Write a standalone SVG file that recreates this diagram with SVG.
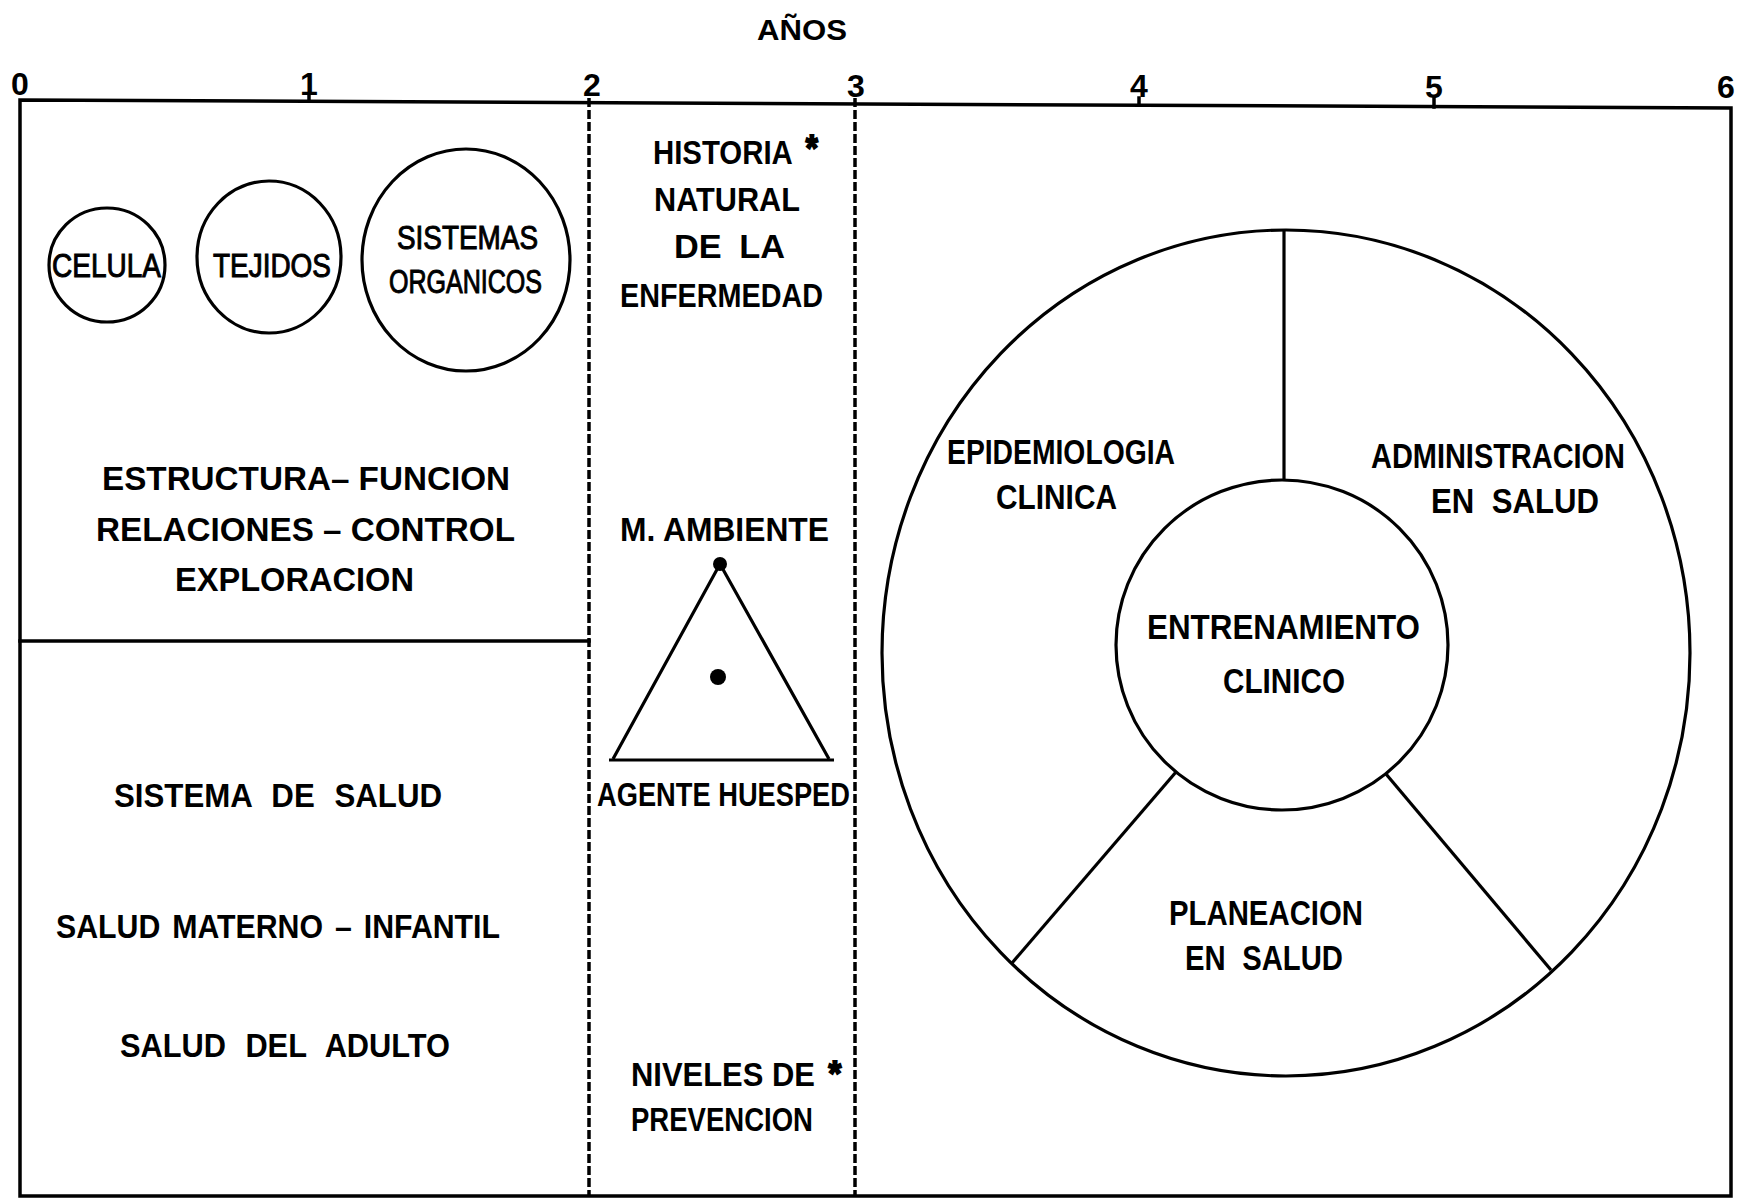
<svg xmlns="http://www.w3.org/2000/svg" width="1743" height="1200" viewBox="0 0 1743 1200">
<style>
  .frame { fill: none; stroke: #000; stroke-width: 3.5; stroke-linecap: square; }
  .dash { fill: none; stroke: #000; stroke-width: 3.5; stroke-dasharray: 9 3; }
  .shape { fill: none; stroke: #000; stroke-width: 3.2; }
  .t { font-family: 'Liberation Sans', Arial, sans-serif; fill: #000; }
  .b { font-weight: bold; font-size: 34px; }
  .r { font-weight: normal; font-size: 33px; stroke: #000; stroke-width: 1; }
  .m { font-weight: bold; font-size: 35px; }
  .ax { font-weight: bold; font-size: 32px; }
  .star { font-weight: bold; font-size: 36px; stroke: #000; stroke-width: 2; }
  .dot { fill: #000; }
</style>
<rect x="0" y="0" width="1743" height="1200" fill="#fff"/>

<g id="axis">
  <text class="t" x="757" y="40" font-size="29" font-weight="bold" textLength="90" lengthAdjust="spacingAndGlyphs">AÑOS</text>
  <text class="t ax" x="20" y="95" text-anchor="middle">0</text>
  <text class="t ax" x="309" y="95" text-anchor="middle">1</text>
  <text class="t ax" x="592" y="96" text-anchor="middle">2</text>
  <text class="t ax" x="856" y="97" text-anchor="middle">3</text>
  <text class="t ax" x="1139" y="97" text-anchor="middle">4</text>
  <text class="t ax" x="1434" y="98" text-anchor="middle">5</text>
  <text class="t ax" x="1726" y="98" text-anchor="middle">6</text>
</g>

<g id="connectors">
  <path class="frame" d="M20,100 L1731,108 L1731,1196 L20,1196 Z"/>
  <line class="frame" x1="309" y1="95" x2="309" y2="101"/>
  <line class="frame" x1="1139" y1="98" x2="1139" y2="105"/>
  <line class="frame" x1="1434" y1="99" x2="1434" y2="107"/>
  <line class="dash" x1="589" y1="98" x2="589" y2="1196"/>
  <line class="dash" x1="855" y1="98" x2="855" y2="1196"/>
  <line class="frame" stroke-width="4" x1="20" y1="641" x2="589" y2="641"/>
</g>

<g id="celula">
  <ellipse class="shape" cx="107" cy="265" rx="58" ry="57"/>
  <text class="t r" x="52" y="277" textLength="109" lengthAdjust="spacingAndGlyphs">CELULA</text>
</g>
<g id="tejidos">
  <ellipse class="shape" cx="269" cy="257" rx="72" ry="76"/>
  <text class="t r" x="213" y="277" textLength="118" lengthAdjust="spacingAndGlyphs">TEJIDOS</text>
</g>
<g id="sistemas-organicos">
  <ellipse class="shape" cx="466" cy="260" rx="104" ry="111"/>
  <text class="t r" x="397" y="249" textLength="141" lengthAdjust="spacingAndGlyphs">SISTEMAS</text>
  <text class="t r" x="389" y="293" textLength="153" lengthAdjust="spacingAndGlyphs">ORGANICOS</text>
</g>

<g id="estructura">
  <text class="t b" x="102" y="490" textLength="408" lengthAdjust="spacingAndGlyphs">ESTRUCTURA– FUNCION</text>
  <text class="t b" x="96" y="541" textLength="419" lengthAdjust="spacingAndGlyphs">RELACIONES – CONTROL</text>
  <text class="t b" x="175" y="591" textLength="239" lengthAdjust="spacingAndGlyphs">EXPLORACION</text>
</g>

<g id="salud">
  <text class="t b" x="114" y="807" word-spacing="12" textLength="328" lengthAdjust="spacingAndGlyphs">SISTEMA DE SALUD</text>
  <text class="t b" x="56" y="938" word-spacing="4" textLength="444" lengthAdjust="spacingAndGlyphs">SALUD  MATERNO – INFANTIL</text>
  <text class="t b" x="120" y="1057" word-spacing="12" textLength="330" lengthAdjust="spacingAndGlyphs">SALUD DEL ADULTO</text>
</g>

<g id="historia-natural">
  <text class="t b" transform="translate(653,164) scale(0.864,1)">HISTORIA<tspan class="star" dx="15" dy="-3">*</tspan></text>
  <text class="t b" x="654" y="211" textLength="146" lengthAdjust="spacingAndGlyphs">NATURAL</text>
  <text class="t b" x="674" y="258" word-spacing="8" textLength="111" lengthAdjust="spacingAndGlyphs">DE LA</text>
  <text class="t b" x="620" y="307" textLength="203" lengthAdjust="spacingAndGlyphs">ENFERMEDAD</text>
</g>

<g id="triada">
  <text class="t b" x="620" y="541" textLength="209" lengthAdjust="spacingAndGlyphs">M. AMBIENTE</text>
  <polyline class="shape" points="613,759 720,564 829,759"/>
  <line class="shape" stroke-width="5" x1="609" y1="760" x2="834" y2="760"/>
  <circle class="dot" cx="720" cy="564" r="7"/>
  <circle class="dot" cx="718" cy="677" r="8"/>
  <text class="t b" x="597" y="806" textLength="253" lengthAdjust="spacingAndGlyphs">AGENTE HUESPED</text>
</g>

<g id="niveles">
  <text class="t b" transform="translate(631,1086) scale(0.91,1)">NIVELES DE<tspan class="star" dx="15" dy="-1">*</tspan></text>
  <text class="t b" x="631" y="1131" textLength="182" lengthAdjust="spacingAndGlyphs">PREVENCION</text>
</g>

<g id="ciclo-clinico">
  <ellipse class="shape" cx="1286" cy="653" rx="404" ry="423"/>
  <ellipse class="shape" cx="1282" cy="645" rx="166" ry="165"/>
  <line class="shape" x1="1284" y1="230" x2="1284" y2="480"/>
  <line class="shape" x1="1176" y1="772" x2="1012" y2="963"/>
  <line class="shape" x1="1386" y1="774" x2="1551" y2="970"/>
</g>
<g id="epidemiologia">
  <text class="t m" x="947" y="464" textLength="228" lengthAdjust="spacingAndGlyphs">EPIDEMIOLOGIA</text>
  <text class="t m" x="996" y="509" textLength="121" lengthAdjust="spacingAndGlyphs">CLINICA</text>
</g>
<g id="administracion">
  <text class="t m" x="1371" y="468" textLength="254" lengthAdjust="spacingAndGlyphs">ADMINISTRACION</text>
  <text class="t m" x="1431" y="513" word-spacing="10" textLength="168" lengthAdjust="spacingAndGlyphs">EN SALUD</text>
</g>
<g id="entrenamiento">
  <text class="t m" x="1147" y="639" textLength="273" lengthAdjust="spacingAndGlyphs">ENTRENAMIENTO</text>
  <text class="t m" x="1223" y="693" textLength="122" lengthAdjust="spacingAndGlyphs">CLINICO</text>
</g>
<g id="planeacion">
  <text class="t m" x="1169" y="925" textLength="194" lengthAdjust="spacingAndGlyphs">PLANEACION</text>
  <text class="t m" x="1185" y="970" word-spacing="10" textLength="158" lengthAdjust="spacingAndGlyphs">EN SALUD</text>
</g>
</svg>
